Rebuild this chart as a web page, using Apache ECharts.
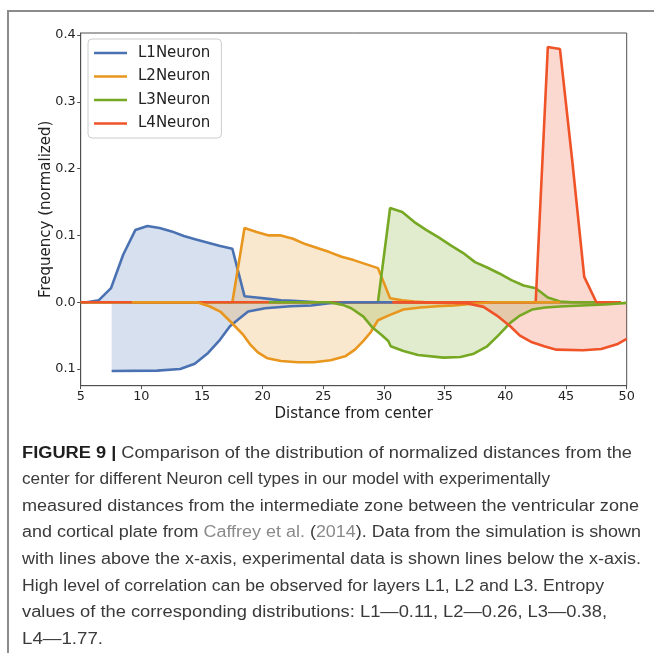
<!DOCTYPE html>
<html>
<head>
<meta charset="utf-8">
<script src="https://cdn.jsdelivr.net/npm/echarts@6/dist/echarts.min.js"></script>
<style>
  html, body { margin: 0; padding: 0; background: #ffffff; }
  #wrap { position: relative; width: 654px; height: 653px; overflow: hidden; background: #fff; }
  #frame { position: absolute; left: 7px; top: 10px; width: 700px; height: 700px;
           border-left: 2px solid #8c8c8c; border-top: 2px solid #8c8c8c; box-sizing: border-box; }
  #chart { position: absolute; left: 0; top: 0; width: 654px; height: 653px; }
  #caption { position: absolute; left: 22px; top: 439.7px; font-family: "Liberation Sans", Arial, sans-serif;
             font-size: 16px; line-height: 26.6px; color: #3a3a3a; }
  #caption div { white-space: nowrap; }
  #caption div span.ln { display: inline-block; transform-origin: 0 50%; }
  #caption b { color: #1e1e1e; }
  #caption .lnk { color: #8a8a8a; }
</style>
</head>
<body>
<div id="wrap">
  <div id="frame"></div>
  <div id="chart"></div>
  <div id="caption">
    <div><span class="ln" data-r="632"><b>FIGURE 9 |</b> Comparison of the distribution of normalized distances from the</span></div>
    <div><span class="ln" data-r="550">center for different Neuron cell types in our model with experimentally</span></div>
    <div><span class="ln" data-r="639">measured distances from the intermediate zone between the ventricular zone</span></div>
    <div><span class="ln" data-r="641">and cortical plate from <span class="lnk">Caffrey et al.</span> (<span class="lnk">2014</span>). Data from the simulation is shown</span></div>
    <div><span class="ln" data-r="641">with lines above the x-axis, experimental data is shown lines below the x-axis.</span></div>
    <div><span class="ln" data-r="604">High level of correlation can be observed for layers L1, L2 and L3. Entropy</span></div>
    <div><span class="ln" data-r="607">values of the corresponding distributions: L1—0.11, L2—0.26, L3—0.38,</span></div>
    <div><span class="ln" data-r="103">L4—1.77.</span></div>
  </div>
</div>
<script>
// ---- data ----
const seriesNames = ['L1Neuron', 'L2Neuron', 'L3Neuron', 'L4Neuron'];
const yTicks = [-0.1, 0, 0.1, 0.2, 0.3, 0.4];

// simulation (drawn above the x-axis)
const simX  = [5, 5.5, 6.5, 7.5, 8.5, 9.5, 10.5, 11.5, 12.5, 13.5, 14.5, 15.5, 16.5, 17.5, 18.5, 19.5, 20.5, 21.5, 22.5, 23.5, 24.5, 25.5, 26.5, 27.5, 28.5, 29.5, 30.5, 31.5, 32.5, 33.5, 34.5, 35.5, 36.5, 37.5, 38.5, 39.5, 40.5, 41.5, 42.5, 43.5, 44.5, 45.5, 46.5, 47.5, 48.5, 49.5];
const simL1 = [0, 0, 0.003, 0.021, 0.071, 0.108, 0.114, 0.111, 0.106, 0.099, 0.094, 0.089, 0.084, 0.080, 0.009, 0.007, 0.005, 0.003, 0.002, 0.001, 0, 0, 0, 0, 0, 0, 0, 0, 0, 0, 0, 0, 0, 0, 0, 0, 0, 0, 0, 0, 0, 0, 0, 0, 0, 0];
const simL2 = [0, 0, 0, 0, 0, 0, 0, 0, 0, 0, 0, 0, 0, 0, 0.111, 0.105, 0.100, 0.100, 0.095, 0.087, 0.081, 0.075, 0.068, 0.063, 0.057, 0.051, 0.006, 0.003, 0.001, 0, 0, 0, 0, 0, 0, 0, 0, 0, 0, 0, 0, 0, 0, 0, 0, 0];
const simL3 = [0, 0, 0, 0, 0, 0, 0, 0, 0, 0, 0, 0, 0, 0, 0, 0, 0, 0, 0, 0, 0, 0, 0, 0, 0, 0, 0.141, 0.135, 0.120, 0.108, 0.097, 0.085, 0.074, 0.060, 0.052, 0.043, 0.033, 0.025, 0.021, 0.007, 0.001, 0, 0, 0, 0, 0];
const simL4 = [0, 0, 0, 0, 0, 0, 0, 0, 0, 0, 0, 0, 0, 0, 0, 0, 0, 0, 0, 0, 0, 0, 0, 0, 0, 0, 0, 0, 0, 0, 0, 0, 0, 0, 0, 0, 0, 0, 0, 0.382, 0.379, 0.214, 0.038, 0, 0, 0];

// experimental (drawn below the x-axis)
const expL1X = [7.55, 11.3, 13.2, 14.4, 15.5, 16.4, 17.3, 17.9, 18.8, 20.2, 22.3, 24.0, 25.5, 27.0, 30.7];
const expL1Y = [-0.103, -0.1025, -0.1, -0.092, -0.076, -0.058, -0.036, -0.027, -0.014, -0.009, -0.006, -0.005, -0.0015, 0, 0];
const expL2X = [9.2, 14.6, 15.6, 16.5, 17.4, 18.4, 19.0, 19.6, 20.4, 21.5, 22.9, 24.2, 25.6, 26.8, 27.6, 28.3, 28.9, 29.5, 30.5, 31.6, 33.0, 34.4, 35.8, 37.5, 39.0, 44.5];
const expL2Y = [0, 0, -0.006, -0.014, -0.03, -0.049, -0.064, -0.075, -0.084, -0.088, -0.090, -0.090, -0.087, -0.081, -0.071, -0.058, -0.045, -0.027, -0.019, -0.011, -0.008, -0.006, -0.005, -0.002, 0, 0];
const expL3X = [20.5, 25.5, 26.6, 27.3, 28.3, 29.0, 29.8, 30.35, 30.55, 31.6, 32.8, 34.9, 36.3, 37.4, 38.5, 39.4, 40.4, 41.2, 42.2, 43.3, 44.5, 46.3, 48.2, 50];
const expL3Y = [0, 0, -0.004, -0.009, -0.0215, -0.037, -0.049, -0.058, -0.066, -0.073, -0.079, -0.083, -0.082, -0.077, -0.066, -0.05, -0.031, -0.02, -0.011, -0.008, -0.0065, -0.005, -0.0035, -0.001];
const expL4X = [30.7, 36.8, 38.2, 39.3, 40.4, 41.2, 42.2, 43.2, 44.2, 46.4, 47.9, 49.2, 50];
const expL4Y = [0, -0.0015, -0.007, -0.02, -0.036, -0.05, -0.06, -0.066, -0.071, -0.072, -0.07, -0.063, -0.055];

// ---- styling ----
const colors = ['#4a72b2', '#e8961e', '#76a823', '#ef5327'];
const simY = [simL1, simL2, simL3, simL4];
const expX = [expL1X, expL2X, expL3X, expL4X];
const expY = [expL1Y, expL2Y, expL3Y, expL4Y];

function mkSeries(name, color, pts) {
  return {
    type: 'line', name: name, data: pts, symbol: 'none', showSymbol: false,
    lineStyle: { width: 2.6, color: color }, itemStyle: { color: color },
    areaStyle: { color: color, opacity: 0.22 }, emphasis: { disabled: true },
    clip: true
  };
}
const series = [];
for (let k = 0; k < 4; k++) {
  series.push(mkSeries(seriesNames[k], colors[k], simX.map((x, i) => [x, simY[k][i]])));
}
for (let k = 0; k < 4; k++) {
  series.push(mkSeries(seriesNames[k], colors[k], expX[k].map((x, i) => [x, expY[k][i]])));
}

const axisCol = '#505050';
const txtCol = '#222222';
const font = 'DejaVu Sans';

const chart = echarts.init(document.getElementById('chart'), null, { renderer: 'canvas' });
chart.setOption({
  animation: false,
  grid: { left: 80.7, right: 27.3, top: 33, bottom: 267.3, show: true, borderColor: axisCol, borderWidth: 1 },
  legend: {
    left: 88, top: 39, orient: 'vertical',
    data: seriesNames.map(n => ({ name: n, icon: 'rect' })),
    itemWidth: 33, itemHeight: 2.6, itemGap: 5.5,
    padding: [5, 11, 5.5, 6],
    backgroundColor: 'rgba(255,255,255,0.8)', borderColor: '#cccccc', borderWidth: 1, borderRadius: 4,
    textStyle: { fontFamily: font, fontSize: 15, color: txtCol, lineHeight: 18, padding: [0, 0, 0, 6] },
    selectedMode: false
  },
  xAxis: {
    type: 'value', min: 5, max: 50, interval: 5,
    axisLine: { onZero: false, lineStyle: { color: axisCol, width: 1 } },
    axisTick: { length: 3.5, lineStyle: { color: axisCol } },
    axisLabel: { color: txtCol, fontSize: 12.8, fontFamily: font, margin: 4.5 },
    splitLine: { show: false },
    name: 'Distance from center', nameLocation: 'middle', nameGap: 21, nameMoveOverlap: false,
    nameTextStyle: { fontFamily: font, fontSize: 15, color: txtCol }
  },
  yAxis: {
    type: 'value', min: -0.125, max: 0.403,
    axisLine: { show: true, lineStyle: { color: axisCol, width: 1 } },
    axisTick: { show: true, length: 3.5, lineStyle: { color: axisCol }, customValues: yTicks },
    axisLabel: { color: txtCol, fontSize: 12.8, fontFamily: font, margin: 5, customValues: yTicks,
                 formatter: v => Math.abs(v).toFixed(1) },
    splitLine: { show: false },
    name: 'Frequency (normalized)', nameLocation: 'middle', nameGap: 27, nameMoveOverlap: false,
    nameTextStyle: { fontFamily: font, fontSize: 15, color: txtCol }
  },
  series: series
});

// fit each caption line to the right edge seen in the reference
(function () {
  const left = 22;
  document.querySelectorAll('#caption span.ln').forEach(function (el) {
    const target = parseFloat(el.getAttribute('data-r')) - left;
    const w = el.getBoundingClientRect().width;
    if (w > 0) el.style.transform = 'scaleX(' + (target / w) + ')';
  });
})();
</script>
</body>
</html>
